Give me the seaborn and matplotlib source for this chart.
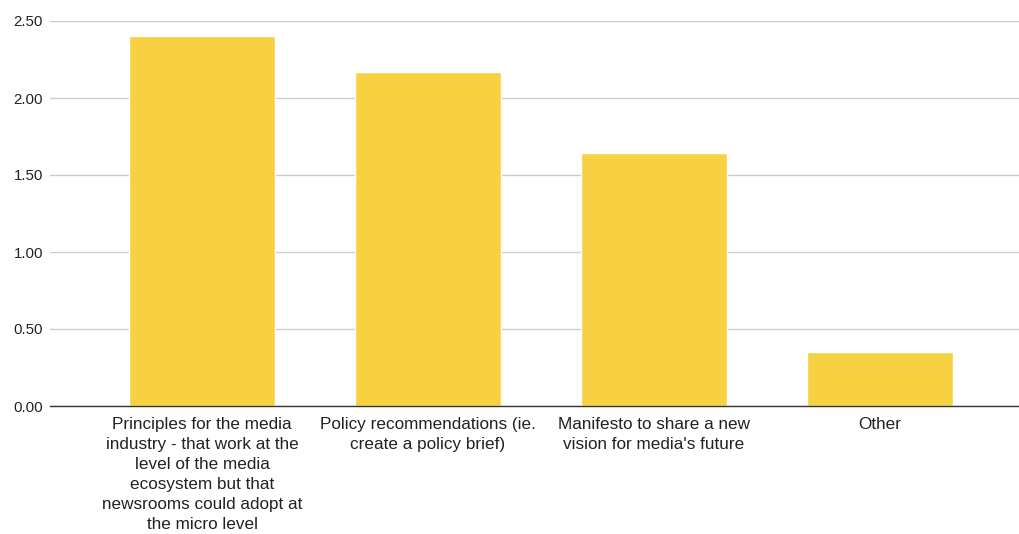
import matplotlib
matplotlib.use("Agg")
import matplotlib.pyplot as plt
import seaborn as sns
import pandas as pd

categories = [
    "Principles for the media\nindustry - that work at the\nlevel of the media\necosystem but that\nnewsrooms could adopt at\nthe micro level",
    "Policy recommendations (ie.\ncreate a policy brief)",
    "Manifesto to share a new\nvision for media's future",
    "Other",
]
values = [2.40, 2.17, 1.64, 0.35]
yticks = [0.0, 0.5, 1.0, 1.5, 2.0, 2.5]
ytick_labels = ["0.00", "0.50", "1.00", "1.50", "2.00", "2.50"]

sns.set_theme(style="white")
plt.rcParams["font.family"] = ["Liberation Sans", "DejaVu Sans"]

df = pd.DataFrame({"cat": categories, "val": values})
fig = plt.figure(figsize=(10.2, 5.34), dpi=100)
ax = fig.add_axes([50/1020, 128/534, 970/1020, 385/534])
sns.barplot(data=df, x="cat", y="val", color="#F8D142", saturation=1,
            width=0.646, ax=ax, zorder=3)
ax.set_xlim(-0.673, 3.62)
ax.set_ylim(0, 2.5)
ax.set_yticks(yticks)
ax.set_yticklabels(ytick_labels, fontsize=10.8, color="#222222")
ax.set_xticks(range(len(categories)))
ax.set_xticklabels(categories, fontsize=12.3, color="#222222", linespacing=1.42)
ax.set_xlabel("")
ax.set_ylabel("")
ax.grid(axis="y", color="#cccccc", linewidth=1, zorder=0)
for s in ["top", "right", "left"]:
    ax.spines[s].set_visible(False)
ax.spines["bottom"].set_color("#333333")
ax.spines["bottom"].set_linewidth(1)
ax.spines["bottom"].set_zorder(4)
ax.tick_params(axis="y", length=0, pad=5)
ax.tick_params(axis="x", length=0, pad=8)
fig.savefig("out.png", dpi=100)
